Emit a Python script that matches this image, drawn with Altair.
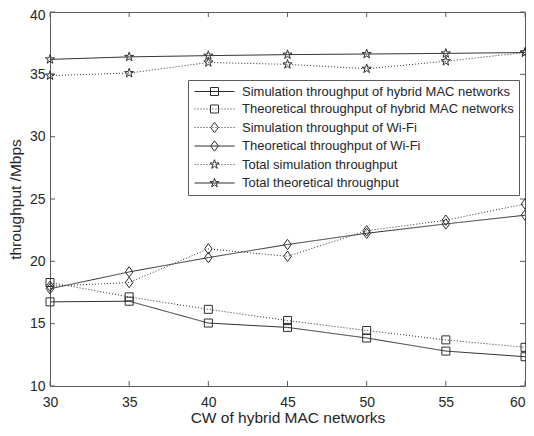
import math
import altair as alt
import pandas as pd

# ---------------- data ----------------
cw = [30, 35, 40, 45, 50, 55, 60]
sim_hybrid = [16.75, 16.8, 15.05, 14.7, 13.85, 12.8, 12.35]
theo_hybrid = [18.3, 17.15, 16.15, 15.25, 14.45, 13.7, 13.1]
sim_wifi = [18.0, 18.3, 21.0, 20.4, 22.45, 23.3, 24.6]
theo_wifi = [17.8, 19.15, 20.3, 21.35, 22.25, 23.0, 23.7]
sim_total = [34.9, 35.1, 35.95, 35.8, 35.45, 36.05, 36.75]
theo_total = [36.2, 36.4, 36.5, 36.58, 36.63, 36.68, 36.75]

series_names = [
    "Simulation throughput of hybrid MAC networks",
    "Theoretical throughput of hybrid MAC networks",
    "Simulation throughput of Wi-Fi",
    "Theoretical throughput of Wi-Fi",
    "Total simulation throughput",
    "Total theoretical throughput",
]
series_values = [sim_hybrid, theo_hybrid, sim_wifi, theo_wifi, sim_total, theo_total]
series_solid = [True, False, False, True, False, True]
series_marker = ["square", "square", "diamond", "diamond", "star", "star"]

x_ticks = [30, 35, 40, 45, 50, 55, 60]
y_ticks = [10, 15, 20, 25, 30, 35, 40]

rows = []
for name, vals in zip(series_names, series_values):
    for x, v in zip(cw, vals):
        rows.append({"series": name, "cw": x, "thr": v})
df = pd.DataFrame(rows)
df_xt = pd.DataFrame({"cw": x_ticks})
df_yt = pd.DataFrame({"thr": y_ticks})

# ---------------- style ----------------
W, H = 475, 374
INK = "#2e2e2e"
AXIS = "#5c5c5c"
TXT = "#262626"
FONT = "Liberation Sans"
TICK = 5


def star_path(r_out, r_in, cx=0.0, cy=0.0):
    pts = []
    for k in range(10):
        r = r_out if k % 2 == 0 else r_in
        a = math.radians(-90 + 36 * k)
        pts.append((cx + r * math.cos(a), cy + r * math.sin(a)))
    return "M" + "L".join(f"{px:.3f},{py:.3f}" for px, py in pts) + "Z"


def marker_path(kind, cx=0.0, s=1.0):
    if kind == "square":
        return (f"M{cx - s:.3f},{-s:.3f}L{cx + s:.3f},{-s:.3f}"
                f"L{cx + s:.3f},{s:.3f}L{cx - s:.3f},{s:.3f}Z")
    if kind == "diamond":
        return (f"M{cx:.3f},{-1.3 * s:.3f}L{cx + 0.95 * s:.3f},0"
                f"L{cx:.3f},{1.3 * s:.3f}L{cx - 0.95 * s:.3f},0Z")
    return star_path(1.2 * s, 0.46 * s, cx)


plot_shapes = [marker_path(k) for k in series_marker]


# legend symbols: line segment + marker (unit = 5 px, symbol size 100)
def legend_path(kind, solid):
    x0, x1 = -1.0, 7.0
    if solid:
        line = f"M{x0},0L{x1},0"
    else:
        segs = []
        x = x0
        while x < x1:
            segs.append(f"M{x:.2f},0L{min(x + 0.2, x1):.2f},0")
            x += 0.6
        line = "".join(segs)
    return line + marker_path(kind, cx=3.0, s=0.8)


legend_shapes = [legend_path(k, s) for k, s in zip(series_marker, series_solid)]
dash_range = [[1, 0] if s else [1, 2] for s in series_solid]

xscale = alt.Scale(domain=[30, 60], nice=False, zero=False)
yscale = alt.Scale(domain=[10, 40], nice=False, zero=False)

x_axis = alt.Axis(
    values=x_ticks, tickSize=0, domain=False, grid=False,
    labelFontSize=14, labelPadding=9, labelColor=TXT, labelFont=FONT,
    labelAlign={"condition": {"test": "datum.value >= 60", "value": "right"}, "value": "center"},
    title="CW of hybrid MAC networks", titleFontSize=15.5, titleFont=FONT,
    titleFontWeight="normal", titleColor=TXT, titlePadding=1, labelFlush=False,
)
y_axis = alt.Axis(
    values=y_ticks, tickSize=0, domain=False, grid=False,
    labelFontSize=14, labelPadding=5, labelColor=TXT, labelFont=FONT,
    labelOffset={"condition": {"test": "datum.value >= 40", "value": 3}, "value": 0},
    title="throughput /Mbps", titleFontSize=15.5, titleFont=FONT,
    titleFontWeight="normal", titleColor=TXT, titlePadding=6, labelFlush=False,
)

base = alt.Chart(df)

lines = base.mark_line(color=INK, strokeWidth=1).encode(
    x=alt.X("cw:Q", scale=xscale, axis=x_axis),
    y=alt.Y("thr:Q", scale=yscale, axis=y_axis),
    strokeDash=alt.StrokeDash("series:N", scale=alt.Scale(domain=series_names, range=dash_range), legend=None),
    detail="series:N",
)

points = base.mark_point(filled=False, color=INK, strokeWidth=1, size=64, opacity=1).encode(
    x=alt.X("cw:Q", scale=xscale),
    y=alt.Y("thr:Q", scale=yscale),
    shape=alt.Shape("series:N", scale=alt.Scale(domain=series_names, range=plot_shapes), legend=None),
)

legend_layer = base.mark_point(filled=False, color=INK, strokeWidth=1, size=100, opacity=0).encode(
    x=alt.X("cw:Q", scale=xscale),
    y=alt.Y("thr:Q", scale=yscale),
    shape=alt.Shape(
        "series:N",
        scale=alt.Scale(domain=series_names, range=legend_shapes),
        legend=alt.Legend(
            title=None, orient="none", legendX=138, legendY=68,
            symbolSize=100, symbolOpacity=1, symbolStrokeColor=INK,
            symbolFillColor="transparent", symbolStrokeWidth=1,
            labelOffset=36, labelFontSize=13, labelFont=FONT, labelColor=TXT,
            labelLimit=400, rowPadding=3.5, padding=5,
            strokeColor=AXIS, fillColor="white", cornerRadius=0,
            symbolOffset=0,
        ),
    ),
)

xt_bottom = alt.Chart(df_xt).mark_rule(color=AXIS, strokeWidth=1).encode(
    x=alt.X("cw:Q", scale=xscale), y=alt.value(H), y2=alt.value(H - TICK))
xt_top = alt.Chart(df_xt).mark_rule(color=AXIS, strokeWidth=1).encode(
    x=alt.X("cw:Q", scale=xscale), y=alt.value(0), y2=alt.value(TICK))
yt_left = alt.Chart(df_yt).mark_rule(color=AXIS, strokeWidth=1).encode(
    y=alt.Y("thr:Q", scale=yscale), x=alt.value(0), x2=alt.value(TICK))
yt_right = alt.Chart(df_yt).mark_rule(color=AXIS, strokeWidth=1).encode(
    y=alt.Y("thr:Q", scale=yscale), x=alt.value(W), x2=alt.value(W - TICK))

chart = (
    alt.layer(lines, points, legend_layer, xt_bottom, xt_top, yt_left, yt_right)
    .resolve_scale(shape="independent", strokeDash="independent")
    .properties(
        width=W, height=H,
        autosize=alt.AutoSizeParams(type="none"),
        padding={"left": 42, "top": 4, "right": 1, "bottom": 42},
        background="white",
    )
    .configure_view(stroke=AXIS, strokeWidth=1)
)

chart.save("out.html", embed_options={"renderer": "svg", "actions": False})
